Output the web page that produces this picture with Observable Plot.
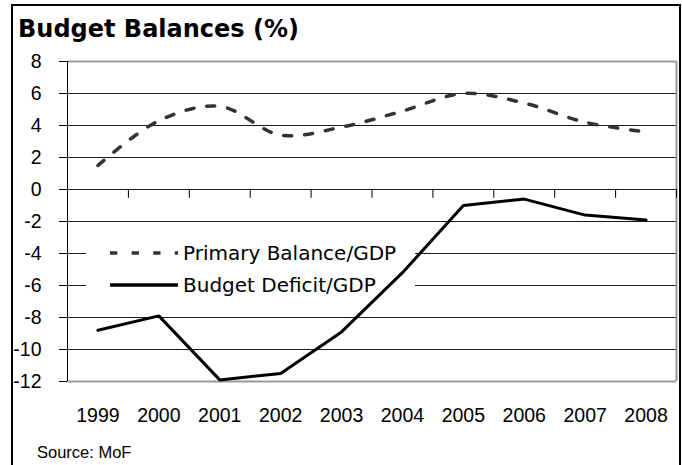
<!DOCTYPE html>
<html>
<head>
<meta charset="utf-8">
<script src="https://cdn.jsdelivr.net/npm/d3@7"></script>
<script src="https://cdn.jsdelivr.net/npm/@observablehq/plot@0.6"></script>
<style>
  html, body { margin: 0; padding: 0; overflow: hidden; background: #fff; }
  #wrap { position: relative; width: 682px; height: 465px; }
  #frame { position: absolute; left: 11px; top: 4px; width: 666px; height: 480px;
           border: 2px solid #000; border-bottom: none; }
  #title { position: absolute; left: 18px; top: 17px; font: bold 24px/1 "DejaVu Sans", sans-serif; color: #000; white-space: nowrap; }
  #source { position: absolute; left: 37px; top: 444px; font: 16.5px/1 "Liberation Sans", sans-serif; color: #000; white-space: nowrap; }
  #chart { position: absolute; left: 0; top: 0; }
</style>
</head>
<body>
<div id="wrap">
  <div id="frame"></div>
  <div id="chart"></div>
  <div id="title">Budget Balances (%)</div>
  <div id="source">Source: MoF</div>
</div>
<script>
const years = [1999, 2000, 2001, 2002, 2003, 2004, 2005, 2006, 2007, 2008];
const primaryBalance = [1.5, 4.3, 5.2, 3.4, 3.9, 4.9, 6.0, 5.4, 4.2, 3.6];
const budgetDeficit = [-8.8, -7.9, -11.9, -11.5, -8.9, -5.2, -1.0, -0.6, -1.6, -1.9];
const yTicks = [-12, -10, -8, -6, -4, -2, 0, 2, 4, 6, 8];
const seriesNames = ["Primary Balance/GDP", "Budget Deficit/GDP"];

const primaryData = years.map((yr, i) => ({year: yr, value: primaryBalance[i]}));
const deficitData = years.map((yr, i) => ({year: yr, value: budgetDeficit[i]}));
const yMin = yTicks[0], yMax = yTicks[yTicks.length - 1];
const xMin = years[0] - 0.5, xMax = years[years.length - 1] + 0.5;
const bounds = years.map(yr => yr + 0.5);
const innerTicks = yTicks.filter(t => t !== yMin && t !== yMax);

const legendMark = (index, scales) => {
  const y = scales.y;
  const g = d3.create("svg:g");
  g.append("rect").attr("x", 86).attr("y", 236).attr("width", 329).attr("height", 65).attr("fill", "#fff");
  const rows = [
    {name: seriesNames[0], yy: y(-4), dash: "7.3,14.3", stroke: "#333", w: 3.5},
    {name: seriesNames[1], yy: y(-6), dash: null, stroke: "#000", w: 3.5}
  ];
  for (const r of rows) {
    const ln = g.append("line").attr("x1", 110).attr("x2", 178).attr("y1", r.yy).attr("y2", r.yy)
      .attr("stroke", r.stroke).attr("stroke-width", r.w);
    if (r.dash) ln.attr("stroke-dasharray", r.dash);
    g.append("text").attr("x", 183).attr("y", r.yy).attr("dy", "0.36em")
      .attr("text-anchor", "start")
      .attr("font-family", "DejaVu Sans").attr("font-size", 20).attr("fill", "#000").text(r.name);
  }
  return g.node();
};

const chart = Plot.plot({
  width: 682,
  height: 465,
  marginLeft: 67,
  marginRight: 6,
  marginTop: 61,
  marginBottom: 84,
  x: {domain: [xMin, xMax], label: null},
  y: {domain: [yMin, yMax], label: null},
  style: {fontFamily: "Liberation Sans", fontSize: "19.5px", color: "#000", background: "transparent", overflow: "visible"},
  marks: [
    Plot.ruleY(innerTicks, {stroke: "#1a1a1a", strokeWidth: 1}),
    Plot.ruleY([yMin, yMax], {stroke: "#9a9a9a", strokeWidth: 2}),
    Plot.ruleX([xMax], {stroke: "#9a9a9a", strokeWidth: 2}),
    legendMark,
    Plot.ruleX([xMin], {stroke: "#000", strokeWidth: 1}),
    Plot.ruleX(bounds, {y1: 0, y2: -0.55, stroke: "#000", strokeWidth: 1}),
    Plot.axisY({ticks: yTicks, tickSize: 8, tickPadding: 18, tickFormat: d => String(d), stroke: "#000", label: null}),
    Plot.axisX({ticks: years, tickSize: 0, tickPadding: 27, tickFormat: d => String(d), label: null}),
    Plot.line(deficitData, {x: "year", y: "value", stroke: "#000", strokeWidth: 3, strokeLinejoin: "miter"}),
    Plot.line(primaryData, {x: "year", y: "value", stroke: "#333", strokeWidth: 3.5, strokeDasharray: "8,13", curve: "catmull-rom"})
  ]
});
document.getElementById("chart").appendChild(chart);
</script>
</body>
</html>
